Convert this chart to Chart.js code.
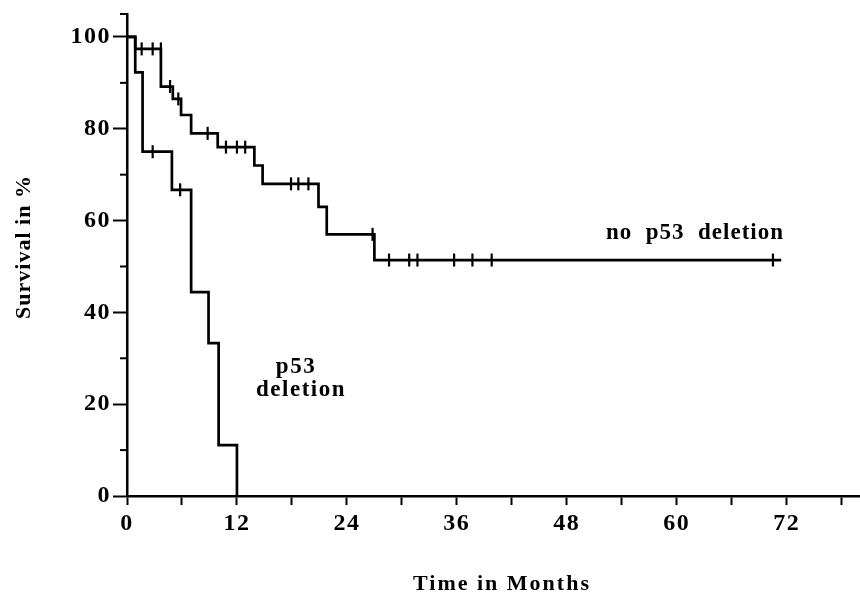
<!DOCTYPE html>
<html>
<head>
<meta charset="utf-8">
<script src="https://cdn.jsdelivr.net/npm/chart.js@4.4.0/dist/chart.umd.min.js"></script>
<style>
  html, body { margin: 0; padding: 0; background: #fff; }
  #wrap { width: 860px; height: 598px; position: relative; }
</style>
</head>
<body>
<div id="wrap"><canvas id="km"></canvas></div>
<script>
// Kaplan-Meier steps, time in months / survival in %
const delTimes = [0, 0.9, 1.7, 4.9, 7.0, 8.9, 10.0, 12.0];
const delSurv  = [100, 92.3, 75, 66.7, 44.4, 33.3, 11.1, 0];
const delCensTimes = [2.8, 5.8];
const delCensSurv  = [75, 66.7];

const noTimes = [0, 0.9, 3.7, 5.0, 5.9, 7.0, 9.9, 13.9, 14.8, 20.9, 21.8, 27.0, 71.4];
const noSurv  = [100, 97.4, 89.2, 86.5, 83.0, 79.0, 76.0, 72.0, 68.0, 63.0, 57.0, 51.4, 51.4];
const noCensTimes = [1.6, 2.8, 3.7, 4.7, 5.6, 8.8, 10.8, 12.0, 12.9, 17.9, 18.7, 19.8, 26.8,
                     28.6, 30.8, 31.7, 35.7, 37.7, 39.8, 70.5];
const noCensSurv  = [97.4, 97.4, 97.4, 89.2, 86.5, 79.0, 76.0, 76.0, 76.0, 68.0, 68.0, 68.0, 57.0,
                     51.4, 51.4, 51.4, 51.4, 51.4, 51.4, 51.4];

const xLabels = [0, 12, 24, 36, 48, 60, 72];
const xMinor  = [6, 18, 30, 42, 54, 66, 78];
const yLabels = [0, 20, 40, 60, 80, 100];
const yMinor  = [10, 30, 50, 70, 90, 105];

const SERIF = '"Liberation Serif", "Times New Roman", serif';

const toPoints = (xs, ys) => xs.map((t, i) => ({ x: t, y: ys[i] }));
const asTicks = (a, b) => a.concat(b).sort((p, q) => p - q).map(v => ({ value: v }));

// texts + short minor ticks drawn on top, like the printed figure
const paperText = {
  id: 'paperText',
  beforeDraw(chart) {
    const ctx = chart.ctx;
    ctx.save();
    ctx.fillStyle = '#fff';
    ctx.fillRect(0, 0, chart.width, chart.height);
    ctx.restore();
    ctx.letterSpacing = '1.5px';
  },
  afterDraw(chart) {
    const { ctx, chartArea, scales: { y } } = chart;
    ctx.save();
    ctx.strokeStyle = '#000';
    ctx.lineWidth = 2;
    yMinor.forEach(v => {
      const py = y.getPixelForValue(v);
      ctx.beginPath();
      ctx.moveTo(chartArea.left - 7, py);
      ctx.lineTo(chartArea.left, py);
      ctx.stroke();
    });

    ctx.fillStyle = '#000';
    ctx.font = 'bold 22px ' + SERIF;
    ctx.textBaseline = 'alphabetic';

    // axis titles
    ctx.letterSpacing = '2px';
    ctx.textAlign = 'center';
    ctx.fillText('Time in Months', 502, 590);
    ctx.save();
    ctx.translate(30, 247);
    ctx.rotate(-Math.PI / 2);
    ctx.letterSpacing = '1px';
    ctx.fillText('Survival in %', 0, 0);
    ctx.restore();

    // curve labels
    ctx.font = 'bold 23px ' + SERIF;
    ctx.letterSpacing = '1px';
    ctx.textAlign = 'left';
    ctx.fillText('no  p53  deletion', 606, 239);
    ctx.letterSpacing = '1.5px';
    ctx.textAlign = 'center';
    ctx.fillText('p53', 296, 373);
    ctx.fillText('deletion', 301, 396);
    ctx.restore();
  }
};

new Chart(document.getElementById('km'), {
  type: 'line',
  data: {
    datasets: [
      {
        label: 'p53 deletion',
        data: toPoints(delTimes, delSurv),
        stepped: true,
        borderColor: '#000',
        borderWidth: 2.7,
        pointRadius: 0,
        fill: false,
        clip: false
      },
      {
        label: 'no p53 deletion',
        data: toPoints(noTimes, noSurv),
        stepped: true,
        borderColor: '#000',
        borderWidth: 2.7,
        pointRadius: 0,
        fill: false,
        clip: false
      },
      {
        label: 'censored (p53 deletion)',
        data: toPoints(delCensTimes, delCensSurv),
        showLine: false,
        pointStyle: 'line',
        rotation: 90,
        pointRadius: 6.5,
        borderColor: '#000',
        borderWidth: 2.2,
        clip: false
      },
      {
        label: 'censored (no p53 deletion)',
        data: toPoints(noCensTimes, noCensSurv),
        showLine: false,
        pointStyle: 'line',
        rotation: 90,
        pointRadius: 6.5,
        borderColor: '#000',
        borderWidth: 2.2,
        clip: false
      }
    ]
  },
  options: {
    responsive: true,
    maintainAspectRatio: false,
    animation: false,
    layout: { padding: 0, autoPadding: false },
    plugins: {
      legend: { display: false },
      tooltip: { enabled: false }
    },
    scales: {
      x: {
        type: 'linear',
        min: 0,
        max: 80,
        afterBuildTicks: s => { s.ticks = asTicks(xLabels, xMinor); },
        afterFit: s => { s.height = 102; s.paddingRight = 0; s.paddingLeft = 0; },
        border: { display: true, color: '#000', width: 2.5 },
        grid: {
          drawOnChartArea: false,
          drawTicks: true,
          tickLength: 9,
          tickWidth: 2,
          tickColor: '#000'
        },
        ticks: {
          autoSkip: false,
          maxRotation: 0,
          padding: 4,
          color: '#000',
          font: { family: SERIF, size: 24, weight: 'bold' },
          callback: v => xLabels.includes(v) ? String(v) : ''
        }
      },
      y: {
        type: 'linear',
        min: 0,
        max: 105,
        afterBuildTicks: s => { s.ticks = asTicks(yLabels, yMinor); },
        afterFit: s => { s.width = 127; },
        border: { display: true, color: '#000', width: 2.5 },
        grid: {
          drawOnChartArea: false,
          drawTicks: true,
          tickLength: 14,
          tickWidth: 2,
          tickColor: c => (c.tick && yLabels.includes(c.tick.value)) ? '#000' : 'rgba(0,0,0,0)'
        },
        ticks: {
          autoSkip: false,
          padding: 2,
          color: '#000',
          font: { family: SERIF, size: 24, weight: 'bold', lineHeight: 1.0 },
          callback: v => yLabels.includes(v) ? String(v) : ''
        }
      }
    }
  },
  plugins: [paperText]
});
</script>
</body>
</html>
